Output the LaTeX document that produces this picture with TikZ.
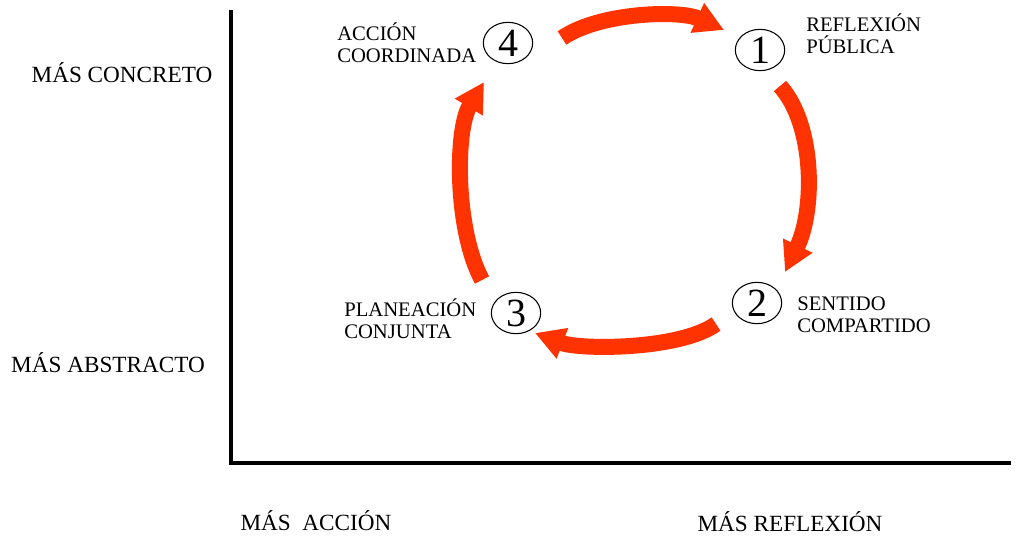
\documentclass[tikz,border=0pt]{standalone}
\usepackage{fontspec}
\setmainfont{Liberation Serif}
\usetikzlibrary{arrows.meta,shapes.geometric}
\definecolor{arrowred}{HTML}{FF3300}
\begin{document}
\begin{tikzpicture}[x=0.75pt,y=-0.75pt,
  axis/.style={line width=2.4pt,black},
  numcirc/.style={draw,ellipse,line width=0.8pt,inner sep=0pt,minimum width=37pt,minimum height=31pt,font=\fontsize{30}{30}\selectfont},
  lbl/.style={align=left,anchor=west,inner sep=0pt,font=\fontsize{15.5}{16.5}\selectfont},
  axlbl/.style={inner sep=0pt,font=\fontsize{17.4}{20}\selectfont},
  bigarrow/.style={draw=arrowred,line width=12pt,-{Triangle[length=22pt,width=23pt]},arrowred}]
\useasboundingbox (0,0) rectangle (1016,537);
\coordinate (top) at (231,10);
\coordinate (origin) at (231,463);
\coordinate (right) at (1011,463);
\draw[axis] (top) -- (origin) -- (right);

\node[axlbl] (conc) at (122,73) {MÁS CONCRETO};
\node[axlbl] (abst) at (108,363) {MÁS ABSTRACTO};
\node[axlbl] (acc) at (316,521) {MÁS\ \ ACCIÓN};
\node[axlbl] (refl) at (790,522) {MÁS REFLEXIÓN};

\node[numcirc] (n4) at (508,43) {4};
\node[numcirc] (n1) at (760,50) {1};
\node[numcirc] (n2) at (757,303) {2};
\node[numcirc] (n3) at (516,313) {3};

\node[lbl] (l4) at (337,43) {ACCIÓN\\COORDINADA};
\node[lbl] (l1) at (806,34) {REFLEXIÓN\\PÚBLICA};
\node[lbl] (l2) at (797,315) {SENTIDO\\COMPARTIDO};
\node[lbl] (l3) at (344,319) {PLANEACIÓN\\CONJUNTA};

\coordinate (a1s) at (562,38);
\coordinate (a1e) at (724,30);
\coordinate (a2s) at (780,86);
\coordinate (a2e) at (785,272);
\coordinate (a3s) at (716,324);
\coordinate (a3e) at (535,333);
\coordinate (a4s) at (482,280);
\coordinate (a4e) at (484,82);

\draw[bigarrow] (a1s) .. controls (600,12) and (680,10) .. (a1e);
\draw[bigarrow] (a2s) .. controls (815,125) and (815,210) .. (a2e);
\draw[bigarrow] (a3s) .. controls (680,350) and (580,350) .. (a3e);
\draw[bigarrow] (a4s) .. controls (455,230) and (455,130) .. (a4e);
\end{tikzpicture}
\end{document}
